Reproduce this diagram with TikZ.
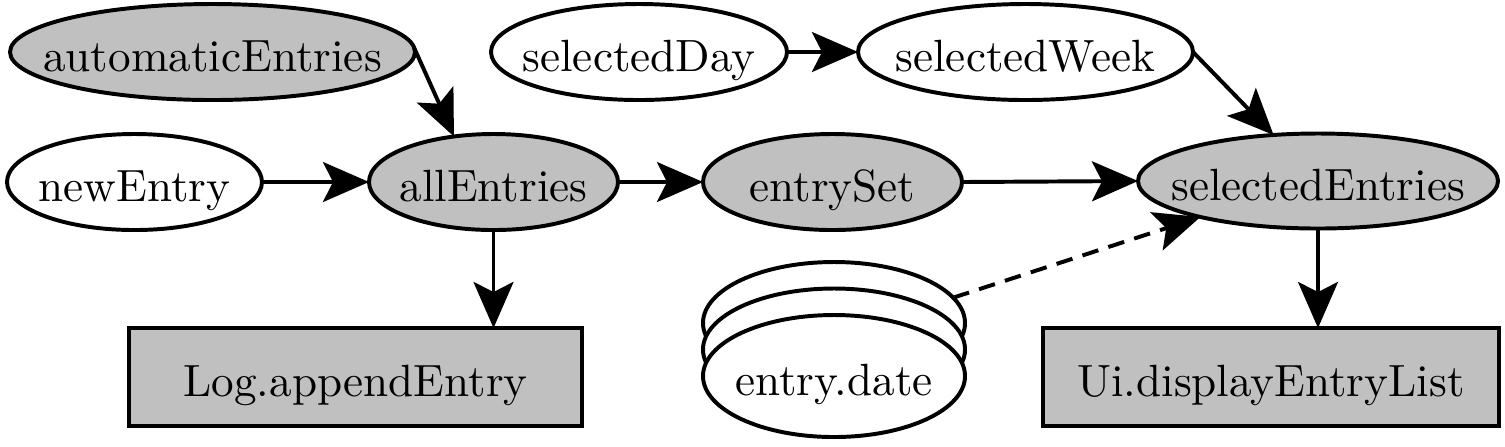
\documentclass[tikz,border=0pt]{standalone}
\usetikzlibrary{shapes.geometric,arrows.meta}
\definecolor{nodegray}{RGB}{192,192,192}
\begin{document}
\begin{tikzpicture}[x=0.228pt,y=-0.228pt,
  sz/.style 2 args={minimum width=#1*0.228pt, minimum height=#2*0.228pt},
  base/.style={draw=black, line width=0.9pt, inner sep=0pt, outer sep=0pt,
    font=\fontsize{10.3pt}{12pt}\selectfont, text height=9.1pt, text depth=0pt},
  ell/.style={base, ellipse, fill=white},
  gell/.style={base, ellipse, fill=nodegray},
  gbox/.style={base, rectangle, fill=nodegray},
  conn/.style={line width=0.9pt, -{Stealth[length=10.5pt, width=9.1pt, inset=2.3pt]}},
  dconn/.style={conn, dash pattern=on 3.8pt off 2.4pt}]
\useasboundingbox (0,0) rectangle (1505,446);
\node[gell, sz={405}{96}] (autoE) at (212.5,52) {\makebox[0pt]{automaticEntries}};
\node[ell, sz={255}{96}] (newE) at (134.5,182) {\makebox[0pt]{newEntry}};
\node[gell, sz={249}{96}] (allE) at (493.5,182) {\makebox[0pt]{allEntries}};
\node[gell, sz={259}{96}] (eSet) at (832.5,182) {\makebox[0pt]{entrySet}};
\node[gell, sz={360}{95}] (selE) at (1318,181) {\makebox[0pt]{selectedEntries}};
\node[ell, sz={296}{96}] (selD) at (639,52) {\makebox[0pt]{selectedDay}};
\node[ell, sz={335}{96}] (selW) at (1025.5,52) {\makebox[0pt]{selectedWeek}};
\node[gbox, sz={453}{98}] (logB) at (355.5,377) {\makebox[0pt]{Log.appendEntry}};
\node[gbox, sz={456}{98}] (uiB) at (1271,377) {\makebox[0pt]{Ui.displayEntryList}};
\node[ell, sz={262}{122}] (dateA) at (834,323) {};
\node[ell, sz={262}{122}] (dateB) at (834,349.5) {};
\node[ell, sz={262}{122}] (dateC) at (834,376) {\makebox[0pt]{entry.date}};
\draw[conn] (autoE.1) -- (allE.131);
\draw[conn] (newE.east) -- (allE.west);
\draw[conn] (allE.east) -- (eSet.west);
\draw[conn] (eSet.east) -- (selE.west);
\draw[conn] (selD.east) -- (selW.west);
\draw[conn] (selW.east) -- (selE.134);
\draw[conn] (allE.south) -- (allE.south |- logB.north);
\draw[conn] (selE.south) -- (selE.south |- uiB.north);
\draw[dconn] (dateA.12) -- (selE.-163);
\end{tikzpicture}
\end{document}
